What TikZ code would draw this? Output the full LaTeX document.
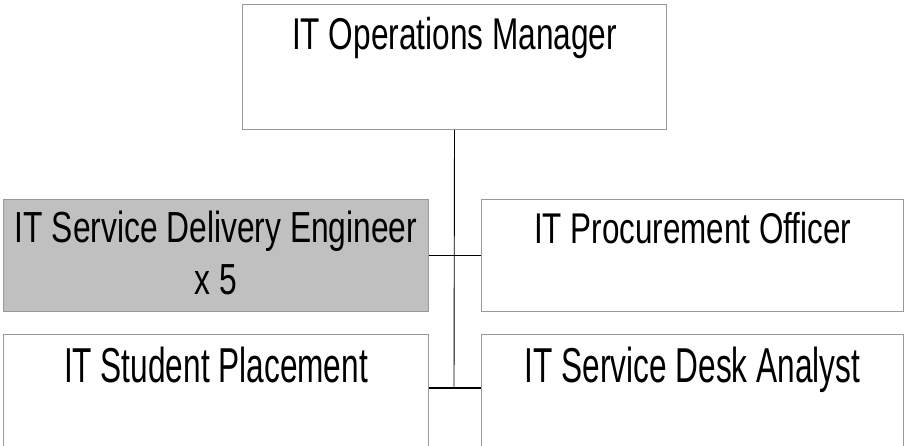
\documentclass[tikz,border=0pt]{standalone}
\usepackage{fontspec}
\setmainfont{Liberation Sans}
\newfontfamily\topfont{Liberation Sans}[FakeStretch=0.71]
\newfontfamily\midfont{Liberation Sans}[FakeStretch=0.73]
\newfontfamily\lowfont{Liberation Sans}[FakeStretch=0.645]
\definecolor{boxline}{HTML}{999999}
\definecolor{boxgray}{HTML}{C0C0C0}

\begin{document}
\begin{tikzpicture}[x=1pt,y=-1pt,
  post/.style={draw=boxline,line width=1pt,inner sep=0pt,anchor=north west,align=center},
  spine/.style={line width=0.9pt},
  branch/.style={line width=1.4pt}]
 \useasboundingbox (0,0) rectangle (905,445);
 \clip (0,0) rectangle (905,445);

 \node [post,minimum width=424pt,text height=45pt,text depth=80pt,
        font=\topfont\fontsize{44.5}{53}\selectfont] (ops) at (242,4) {IT Operations Manager};

 \node [post,fill=boxgray,minimum width=425pt,text height=95pt,text depth=17pt,
        font=\midfont\fontsize{43.5}{52}\selectfont] (delivery) at (3,199) {IT Service Delivery Engineer\\x 5};
 \node [post,minimum width=422pt,text height=44pt,text depth=68pt,
        font=\midfont\fontsize{43}{52}\selectfont] (procure) at (481,199) {IT Procurement Officer};

 \node [post,minimum width=425pt,text height=48pt,text depth=80pt,
        font=\lowfont\fontsize{49}{58}\selectfont] (student) at (3,334) {IT Student Placement};
 \node [post,minimum width=422pt,text height=48pt,text depth=80pt,
        font=\lowfont\fontsize{49}{58}\selectfont] (desk) at (481,334) {IT Service Desk Analyst};

 \coordinate (join) at (454,388);

 \draw [spine] (ops.south) -- (join);
 \draw [branch] (delivery.east) -- (procure.west);
 \draw [branch] (student.east |- join) -- (desk.west |- join);

\end{tikzpicture}
\end{document}
